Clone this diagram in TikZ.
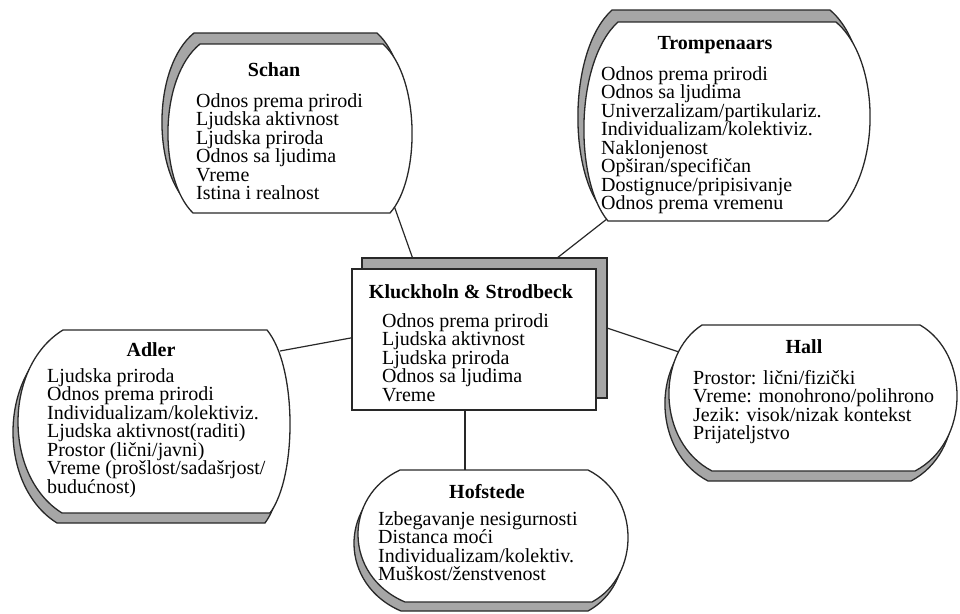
\documentclass[tikz,border=0pt]{standalone}
\usepackage{fontspec}
\setmainfont{Liberation Serif}
\definecolor{shadowgray}{RGB}{166,166,166}
\definecolor{outline}{RGB}{40,40,40}
\newcommand\blobitemfont{\fontsize{20}{18.5}\selectfont\lineskiplimit -30pt\lineskip 0pt\relax}
% #1 options, #2 xl, #3 xr, #4 yt, #5 yb, #6 tl, #7 tr, #8 bl, #9 br
\newcommand\blobshape[9]{%
 \pgfmathsetmacro\blobcR{(#3-0.125*(#7+#9))/0.75}%
 \pgfmathsetmacro\blobcL{(#2-0.125*(#6+#8))/0.75}%
 \pgfmathsetmacro\blobyA{#4+0.2*(#5-#4)}%
 \pgfmathsetmacro\blobyB{#5-0.2*(#5-#4)}%
 \path[#1] (#6,#4) -- (#7,#4) .. controls (\blobcR,\blobyA) and (\blobcR,\blobyB) .. (#9,#5)
   -- (#8,#5) .. controls (\blobcL,\blobyB) and (\blobcL,\blobyA) .. cycle;}
\tikzset{
 shadowbox/.style={fill=shadowgray, draw=outline, line width=1.3pt},
 frontbox/.style={fill=white, draw=outline, line width=1.3pt},
 titletext/.style={font=\bfseries\fontsize{20}{18.5}\selectfont, inner sep=0, anchor=base},
 itemtext/.style={font=\blobitemfont, align=left, inner sep=0, anchor=north west},
 link/.style={draw=outline, line width=1.2pt}
}
\begin{document}
\begin{tikzpicture}[x=1pt,y=-1pt]
\useasboundingbox (0,0) rectangle (960,613);
% connector end points
\coordinate (schanEnd) at (392,200);
\coordinate (centerSchan) at (414,262);
\coordinate (trompEnd) at (612,215);
\coordinate (centerTromp) at (552,262);
\coordinate (adlerEnd) at (280,351);
\coordinate (centerAdler) at (356,337);
\coordinate (hallEnd) at (688,355);
\coordinate (centerHall) at (604,327);
\coordinate (hofEnd) at (465,474);
\coordinate (centerHof) at (465,405);
\draw[link] (schanEnd) -- (centerSchan);
\draw[link] (trompEnd) -- (centerTromp);
\draw[link] (adlerEnd) -- (centerAdler);
\draw[link] (hallEnd) -- (centerHall);
\draw[link] (hofEnd) -- (centerHof);

% Schan
\blobshape{shadowbox, shift={(-6,-11)}}{168}{412}{44}{213}{200}{383}{193}{390}
\blobshape{frontbox}{168}{412}{44}{213}{200}{383}{193}{390}
\node[titletext] (schanT) at (274,76.5) {Schan};
\node[itemtext] (schanL) at (196,93) {Odnos prema prirodi\\Ljudska aktivnost\\Ljudska priroda\\Odnos sa ljudima\\Vreme\\Istina i realnost};

% Trompenaars
\blobshape{shadowbox, shift={(-6,-12)}}{584}{870}{22}{221}{618}{836}{608}{828}
\blobshape{frontbox}{584}{870}{22}{221}{618}{836}{608}{828}
\node[titletext] (trompT) at (715,49.5) {Trompenaars};
\node[itemtext] (trompL) at (601,66) {Odnos prema prirodi\\Odnos sa ljudima\\Univerzalizam/partikulariz.\\Individualizam/kolektiviz.\\Naklonjenost\\Opširan/specifičan\\Dostignuce/pripisivanje\\Odnos prema vremenu};

% Kluckholn & Strodbeck
\path[shadowbox] (362,258) rectangle (607,398);
\path[frontbox] (352,269) rectangle (596,410);
\node[titletext] (klT) at (471,298.5) {Kluckholn \& Strodbeck};
\node[itemtext] (klL) at (382,313) {Odnos prema prirodi\\Ljudska aktivnost\\Ljudska priroda\\Odnos sa ljudima\\Vreme};

% Adler
\blobshape{shadowbox, shift={(-5,10)}}{18}{290}{330}{513}{63}{267}{62}{270}
\blobshape{frontbox}{18}{290}{330}{513}{63}{267}{62}{270}
\node[titletext] (adlerT) at (151,356.5) {Adler};
\node[itemtext] (adlerL) at (47,368) {Ljudska priroda\\Odnos prema prirodi\\Individualizam/kolektiviz.\\Ljudska aktivnost(raditi)\\Prostor (lični/javni)\\Vreme (prošlost/sadašrjost/\\budućnost)};

% Hall
\blobshape{shadowbox, shift={(-4,10)}}{669}{957}{325}{471}{702}{920}{712}{915}
\blobshape{frontbox}{669}{957}{325}{471}{702}{920}{712}{915}
\node[titletext] (hallT) at (804,353.5) {Hall};
\node[itemtext] (hallL) at (693,370) {Prostor: lični/fizički\\Vreme: monohrono/polihrono\\Jezik: visok/nizak kontekst\\Prijateljstvo};

% Hofstede
\blobshape{shadowbox, shift={(-4,9)}}{358}{628}{470}{602}{400}{588}{405}{592}
\blobshape{frontbox}{358}{628}{470}{602}{400}{588}{405}{592}
\node[titletext] (hofT) at (487,498.5) {Hofstede};
\node[itemtext] (hofL) at (378,511) {Izbegavanje nesigurnosti\\Distanca moći\\Individualizam/kolektiv.\\Muškost/ženstvenost};
\end{tikzpicture}
\end{document}
